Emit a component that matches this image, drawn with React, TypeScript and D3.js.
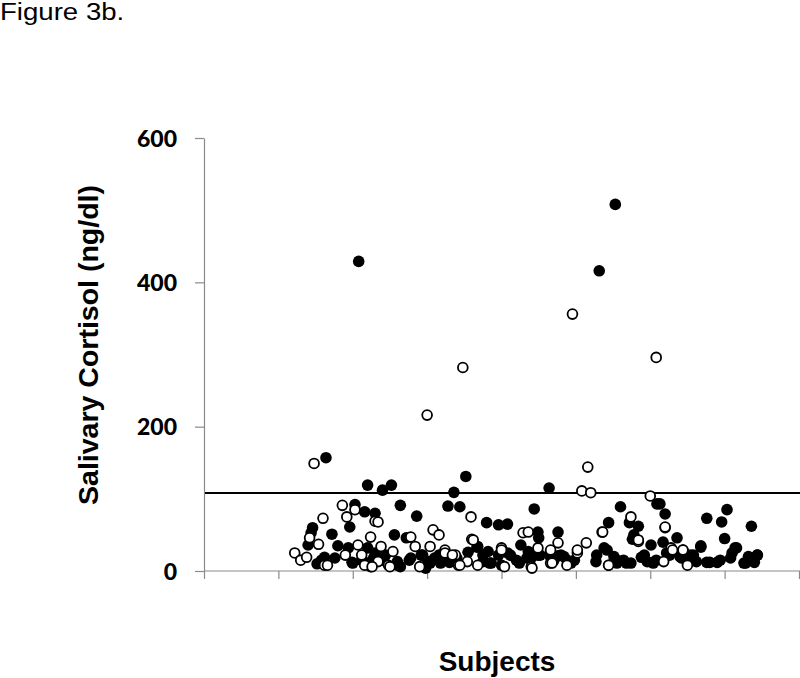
import React, { useEffect, useRef } from 'react';
import * as d3 from 'd3';

// subject index / cortisol (ng/dl)
const filledX = [104, 276.5, 265.7, 82, 176, 110, 120, 126, 168, 232,
  101.5, 108, 115, 98, 73, 72, 86, 70, 90, 97, 81, 79, 76, 88, 99.5, 107, 112, 115, 110,
  164, 172, 132, 143, 128, 136, 122, 130, 139, 146, 150.6, 155, 159, 166, 149, 132, 177.5,
  222, 190, 198, 204, 224.5, 225, 238, 184, 191, 198, 206, 213, 218, 224.5, 233, 240, 187.5, 193, 200, 212, 220, 235,
  280, 272, 286, 292, 289, 288, 304.5, 269, 264, 275.6, 282, 287, 277.6, 263.5, 242, 249, 246.7, 296, 300.5, 298, 304,
  306.5, 310, 338, 351.6, 348, 368, 350, 318, 308.6, 334, 357, 355, 313, 320, 327, 331, 338, 345, 354, 363, 370, 372, 366, 325,
  100, 106, 114, 120, 130, 138, 147, 152, 159, 165,
  158, 163, 170, 183.5, 187.5, 192, 204, 210, 217, 226, 233, 238, 244,
  271, 277.6, 284, 294, 302, 311, 321, 329, 334, 340, 347, 358, 364, 372];
const filledY = [429, 508, 416, 157, 131, 119, 112, 119, 109, 115,
  92, 82, 80, 61, 60, 53, 51, 36, 35, 32, 19, 15, 10, 18, 12, 14, 6, 25, 32,
  90, 89, 91, 76, 50, 46, 22, 13, 18, 22, 13, 18, 11, 18, 4, 6, 26,
  86, 67, 64, 65, 54, 46, 54, 34, 27, 22, 22, 36, 27, 22, 25, 22, 13, 11, 8, 11, 18, 14,
  89, 67, 67, 62, 50, 44, 93, 32, 22, 20, 15, 11, 11, 13, 20, 15, 11, 22, 36, 13, 15,
  93, 79, 73, 85, 68, 62, 45, 46, 40, 35, 32, 25, 22, 20, 22, 13, 12, 12, 18, 11, 12, 22, 20, 11,
  11, 15, 18, 15, 8, 15, 22, 11, 18, 12,
  22, 15, 18, 33, 22, 11, 25, 15, 18, 22, 19, 21, 15,
  29, 15, 11, 19, 11, 25, 18, 22, 33, 12, 15, 32, 11, 22];

const openX = [247.7, 304, 174, 150, 74, 258, 254, 260, 300,
  93, 96, 80, 101.5, 115, 112, 103.5, 77, 71, 61, 65, 69, 95, 106, 81, 108,
  117, 154, 158, 139, 179.5, 180, 119, 127, 142, 152, 162, 169, 117, 124, 171, 177,
  181, 214.5, 218, 238, 200, 224.5, 233, 184, 220, 233, 202,
  287, 267.6, 257, 251, 272, 292, 244,
  310, 309, 322, 314,
  83, 113, 125, 145, 162, 167, 172, 200, 220.5, 234, 251,
  268, 310, 292, 315, 322, 325, 272];
const openY = [356, 296, 282, 216, 149, 144, 111, 108.5, 104,
  91, 75, 73, 85, 69, 47, 36, 37, 46, 25, 15, 19, 22, 22, 8, 8,
  68, 57, 50, 47, 75, 44, 34, 27, 34, 34, 29, 22, 13, 8, 8, 13,
  43, 53, 54, 39, 32, 32, 29, 8, 6, 11, 6,
  75, 54, 39, 25, 8, 41, 8,
  60, 13, 29, 32,
  8, 6, 6, 6, 25, 22, 8, 29, 4, 11, 29,
  54, 61, 43, 29, 29, 8, 8];

const yTicks = [0, 200, 400, 600];
const xTicks = [0, 50, 100, 150, 200, 250, 300, 350, 400];
const cutoff = 108;

const App: React.FC = () => {
  const ref = useRef<SVGSVGElement>(null);

  useEffect(() => {
    if (!ref.current) return;
    const svg = d3.select(ref.current);
    svg.selectAll('*').remove();

    const x = d3.scaleLinear().domain([0, 400]).range([204, 799]);
    const y = d3.scaleLinear().domain([0, 600]).range([571, 138]);
    const grey = '#8a8a8a';

    // y axis
    const yAxis = svg.append('g').attr('transform', 'translate(204,0)')
      .call(d3.axisLeft(y).tickValues(yTicks).tickSize(9).tickSizeOuter(0).tickPadding(18));
    yAxis.select('.domain').attr('stroke', grey).attr('stroke-width', 1.2);
    yAxis.selectAll('.tick line').attr('stroke', grey).attr('stroke-width', 1.2);
    yAxis.selectAll('.tick text')
      .attr('fill', '#000')
      .style('font-family', 'Lato, "Open Sans", sans-serif')
      .style('font-weight', '900')
      .style('font-size', '23px')
      .attr('dy', '0.36em');

    // x axis
    const xAxis = svg.append('g').attr('transform', 'translate(0,571)')
      .call(d3.axisBottom(x).tickValues(xTicks).tickSize(8).tickSizeOuter(0).tickFormat(() => ''));
    xAxis.select('.domain').attr('stroke', grey).attr('stroke-width', 1.2).attr('d', 'M204,0H800');
    xAxis.selectAll('.tick line').attr('stroke', grey).attr('stroke-width', 1.2);

    // cut-off line
    svg.append('line')
      .attr('x1', 205).attr('x2', 800)
      .attr('y1', y(cutoff)).attr('y2', y(cutoff))
      .attr('stroke', '#000').attr('stroke-width', 2);

    const filled = filledX.map((v, i) => [v, filledY[i]]);
    const open = openX.map((v, i) => [v, openY[i]]);

    svg.append('g').selectAll('circle').data(filled).enter().append('circle')
      .attr('cx', d => x(d[0])).attr('cy', d => y(d[1]))
      .attr('r', 5.8).attr('fill', '#000');

    svg.append('g').selectAll('circle').data(open).enter().append('circle')
      .attr('cx', d => x(d[0])).attr('cy', d => y(d[1]))
      .attr('r', 4.9).attr('fill', '#fff')
      .attr('stroke', '#000').attr('stroke-width', 1.8);

    // titles
    svg.append('text')
      .attr('transform', `translate(98,345) rotate(-90)`)
      .attr('text-anchor', 'middle')
      .style('font-family', '"Liberation Sans", Arial, sans-serif')
      .style('font-weight', 'bold')
      .style('font-size', '28.5px')
      .text('Salivary Cortisol (ng/dl)');

    svg.append('text')
      .attr('x', 497).attr('y', 671)
      .attr('text-anchor', 'middle')
      .style('font-family', '"Liberation Sans", Arial, sans-serif')
      .style('font-weight', 'bold')
      .style('font-size', '28px')
      .text('Subjects');

    svg.append('text')
      .attr('transform', 'translate(0,20) scale(1.15,1)')
      .style('font-family', '"Liberation Sans", Arial, sans-serif')
      .style('font-size', '24px')
      .text('Figure 3b.');
  }, []);

  return (
    <svg ref={ref} width={800} height={678}
      style={{ position: 'absolute', left: 0, top: 0, background: '#fff' }} />
  );
};

export default App;
